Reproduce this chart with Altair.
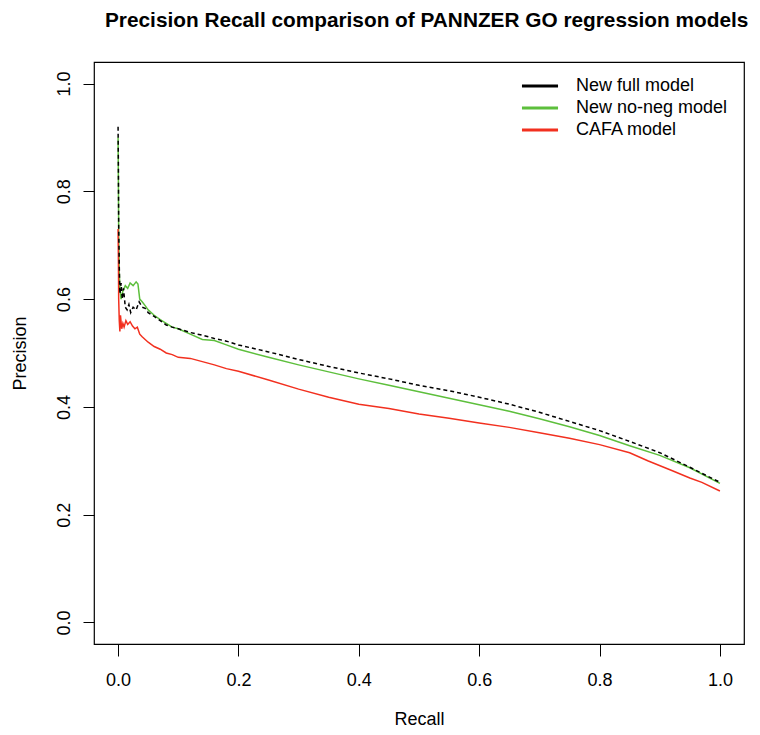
import altair as alt
import pandas as pd

series_names = ["New full model", "New no-neg model", "CAFA model"]
series_colors = ["#000000", "#5dbf3c", "#f2301f"]

full_recall = [0, 0.0005, 0.001, 0.002, 0.003, 0.005, 0.007, 0.009, 0.012, 0.015, 0.018,
               0.021, 0.025, 0.03, 0.035, 0.04, 0.045, 0.05, 0.06, 0.07, 0.08, 0.09, 0.1,
               0.12, 0.14, 0.16, 0.18, 0.2, 0.25, 0.3, 0.35, 0.4, 0.45, 0.5, 0.55, 0.6,
               0.65, 0.7, 0.75, 0.8, 0.85, 0.9, 0.95, 1.0]
full_precision = [0.92, 0.85, 0.74, 0.66, 0.61, 0.63, 0.60, 0.62, 0.585, 0.58, 0.59,
                  0.575, 0.585, 0.58, 0.595, 0.585, 0.583, 0.575, 0.568, 0.56, 0.552, 0.548, 0.545,
                  0.538, 0.533, 0.527, 0.522, 0.515, 0.502, 0.488, 0.475, 0.463, 0.452, 0.44, 0.43, 0.418,
                  0.405, 0.39, 0.373, 0.356, 0.336, 0.315, 0.288, 0.26]

noneg_recall = [0, 0.0005, 0.001, 0.002, 0.003, 0.005, 0.008, 0.012, 0.016, 0.02, 0.025,
                0.03, 0.033, 0.036, 0.04, 0.045, 0.05, 0.06, 0.07, 0.08, 0.09, 0.1, 0.12,
                0.14, 0.16, 0.18, 0.2, 0.25, 0.3, 0.35, 0.4, 0.45, 0.5, 0.55, 0.6, 0.65,
                0.7, 0.75, 0.8, 0.85, 0.9, 0.95, 1.0]
noneg_precision = [0.90, 0.82, 0.72, 0.65, 0.62, 0.60, 0.615, 0.625, 0.62, 0.63, 0.625,
                   0.632, 0.628, 0.60, 0.595, 0.588, 0.58, 0.57, 0.562, 0.555, 0.548, 0.545, 0.535,
                   0.525, 0.523, 0.515, 0.507, 0.492, 0.478, 0.465, 0.452, 0.44, 0.428, 0.416, 0.404, 0.392,
                   0.378, 0.363, 0.347, 0.328, 0.31, 0.287, 0.258]

cafa_recall = [0, 0.0005, 0.001, 0.002, 0.003, 0.004, 0.006, 0.008, 0.01, 0.013, 0.016,
               0.02, 0.024, 0.028, 0.032, 0.036, 0.04, 0.05, 0.06, 0.07, 0.08, 0.09, 0.1,
               0.12, 0.14, 0.16, 0.18, 0.2, 0.25, 0.3, 0.35, 0.4, 0.45, 0.5, 0.55, 0.6,
               0.65, 0.7, 0.75, 0.8, 0.85, 0.88, 0.92, 0.95, 0.97, 1.0]
cafa_precision = [0.73, 0.68, 0.60, 0.56, 0.54, 0.57, 0.545, 0.555, 0.548, 0.56, 0.553,
                  0.558, 0.55, 0.545, 0.548, 0.535, 0.53, 0.52, 0.512, 0.507, 0.50, 0.497, 0.492,
                  0.49, 0.484, 0.478, 0.471, 0.466, 0.45, 0.433, 0.418, 0.405, 0.397, 0.387, 0.379, 0.37,
                  0.362, 0.352, 0.342, 0.33, 0.315, 0.30, 0.282, 0.268, 0.26, 0.244]

tick_values = [0.0, 0.2, 0.4, 0.6, 0.8, 1.0]

rows = []
for name, rs, ps in [(series_names[0], full_recall, full_precision),
                     (series_names[1], noneg_recall, noneg_precision),
                     (series_names[2], cafa_recall, cafa_precision)]:
    for i, (r, p) in enumerate(zip(rs, ps)):
        rows.append({"model": name, "recall": r, "precision": p, "idx": i})
df = pd.DataFrame(rows)

FONT = "Liberation Sans"

color_scale = alt.Scale(domain=series_names, range=series_colors)

x_enc = alt.X("recall:Q",
              scale=alt.Scale(domain=[-0.04, 1.04], nice=False, zero=False),
              axis=alt.Axis(values=tick_values, format=".1f", title="Recall",
                            domain=False, grid=False, tickSize=12, tickColor="#000",
                            labelFontSize=18, labelPadding=15, labelColor="#000",
                            titleFontSize=18, titleFontWeight="normal", titlePadding=21,
                            titleColor="#000", labelFont=FONT, titleFont=FONT))
y_enc = alt.Y("precision:Q",
              scale=alt.Scale(domain=[-0.04, 1.04], nice=False, zero=False),
              axis=alt.Axis(values=tick_values, format=".1f", title="Precision",
                            domain=False, grid=False, tickSize=11, tickColor="#000",
                            labelFontSize=18, labelPadding=10, labelAngle=270,
                            labelAlign="center", labelBaseline="bottom", labelColor="#000",
                            titleFontSize=18, titleFontWeight="normal", titlePadding=26,
                            titleColor="#000", labelFont=FONT, titleFont=FONT))

base = alt.Chart(df)

colored = base.transform_filter(
    alt.FieldOneOfPredicate(field="model", oneOf=series_names[1:])
).mark_line(strokeWidth=1.5, interpolate="linear").encode(
    x=x_enc, y=y_enc,
    color=alt.Color("model:N", scale=color_scale, sort=series_names,
                    legend=alt.Legend(title=None, orient="none", legendX=426, legendY=15,
                                      symbolType="stroke", symbolSize=1300,
                                      symbolStrokeWidth=3, labelFontSize=18,
                                      labelFont=FONT, labelColor="#000",
                                      clipHeight=18,
                                      labelOffset=16, rowPadding=4, padding=0)),
    detail="model:N",
    order="idx:Q",
)

black = base.transform_filter(
    alt.FieldEqualPredicate(field="model", equal=series_names[0])
).mark_line(strokeWidth=1.5, strokeDash=[4, 3], interpolate="linear").encode(
    x=x_enc, y=y_enc,
    color=alt.Color("model:N", scale=color_scale, sort=series_names),
    order="idx:Q",
)

chart = alt.layer(colored, black).properties(
    width=650, height=582,
    autosize=alt.AutoSizeParams(type="none"),
    padding={"left": 86, "top": 54, "right": 8, "bottom": 83},
    title=alt.TitleParams(
        "Precision Recall comparison of PANNZER GO regression models",
        font=FONT, fontSize=20.8, fontWeight="bold", color="#000",
        anchor="start", frame="group", dx=11, offset=30),
).configure_view(stroke="#000", strokeWidth=1.2)

chart.save("out.html", embed_options={"renderer": "svg", "actions": False})
